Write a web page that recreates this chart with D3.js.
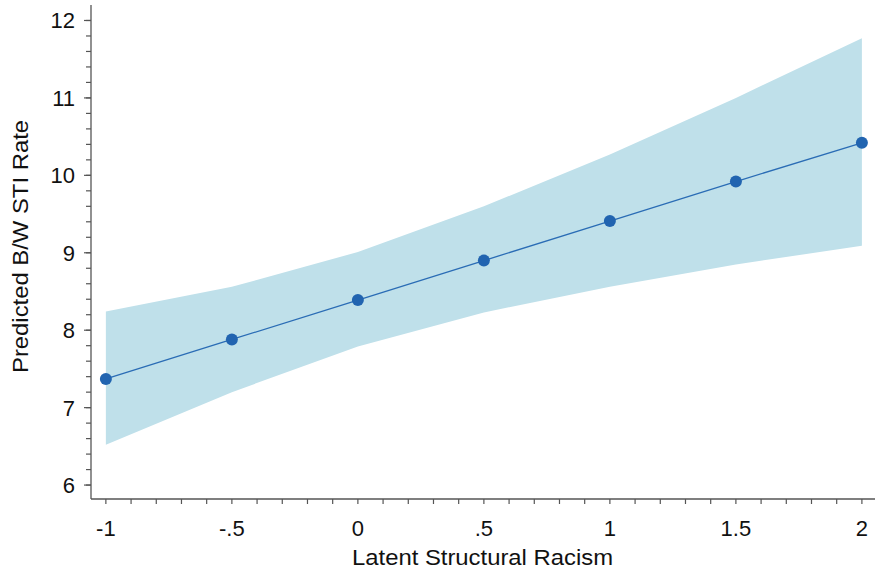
<!DOCTYPE html>
<html><head><meta charset="utf-8">
<script src="https://cdn.jsdelivr.net/npm/d3@7"></script>
<style>body{margin:0;background:#fff}svg{display:block}</style>
</head><body>
<script>
const xVals = [-1, -0.5, 0, 0.5, 1, 1.5, 2];
const predicted = [7.37, 7.88, 8.39, 8.90, 9.41, 9.92, 10.42];
const upper = [8.24, 8.56, 9.01, 9.60, 10.27, 11.00, 11.77];
const lower = [6.52, 7.20, 7.79, 8.23, 8.56, 8.85, 9.09];
const xTicks = [-1, -0.5, 0, 0.5, 1, 1.5, 2];
const xTickLabels = ["-1", "-.5", "0", ".5", "1", "1.5", "2"];
const yTicks = [6, 7, 8, 9, 10, 11, 12];

const W = 882, H = 571;
const svg = d3.select("body").append("svg").attr("width", W).attr("height", H);
const font = "'Liberation Sans', Arial, sans-serif";

const x = d3.scaleLinear().domain([-1.059, 2.052]).range([91, 875]);
const y = d3.scaleLinear().domain([5.82, 12.2]).range([499, 5]);

const data = xVals.map((v, i) => ({x: v, p: predicted[i], u: upper[i], l: lower[i]}));

svg.append("path").datum(data)
  .attr("fill", "#bfe0ea")
  .attr("d", d3.area().x(d => x(d.x)).y0(d => y(d.l)).y1(d => y(d.u)));

svg.append("path").datum(data)
  .attr("fill", "none").attr("stroke", "#2a6cb5").attr("stroke-width", 1.3)
  .attr("d", d3.line().x(d => x(d.x)).y(d => y(d.p)));

svg.selectAll("circle.pt").data(data).enter().append("circle")
  .attr("class", "pt")
  .attr("cx", d => x(d.x)).attr("cy", d => y(d.p)).attr("r", 6)
  .attr("fill", "#2164b0");

const axisColor = "#555";
const textColor = "#111";
// Y axis
const yAxis = svg.append("g").attr("transform", "translate(91,0)");
yAxis.append("line").attr("x1", 0).attr("x2", 0).attr("y1", y.range()[1]).attr("y2", y.range()[0])
  .attr("stroke", axisColor).attr("stroke-width", 1.3);
const yMinor = d3.range(6, 12.01, 0.2);
yAxis.selectAll("line.ym").data(yMinor).enter().append("line")
  .attr("x1", -5).attr("x2", 0).attr("y1", d => y(d)).attr("y2", d => y(d))
  .attr("stroke", axisColor).attr("stroke-width", 1.2);
yAxis.selectAll("line.yM").data(yTicks).enter().append("line")
  .attr("x1", -7).attr("x2", 0).attr("y1", d => y(d)).attr("y2", d => y(d))
  .attr("stroke", axisColor).attr("stroke-width", 1.2);
yAxis.selectAll("text").data(yTicks).enter().append("text")
  .attr("x", -16).attr("y", d => y(d)).attr("dy", "0.36em")
  .attr("text-anchor", "end").attr("font-family", font).attr("font-size", 22).attr("fill", textColor)
  .text(d => d);

// X axis
const xAxis = svg.append("g").attr("transform", "translate(0,499)");
xAxis.append("line").attr("x1", x.range()[0]).attr("x2", x.range()[1]).attr("y1", 0).attr("y2", 0)
  .attr("stroke", axisColor).attr("stroke-width", 1.3);
const xMinor = d3.range(-1, 2.001, 0.1);
xAxis.selectAll("line.xm").data(xMinor).enter().append("line")
  .attr("x1", d => x(d)).attr("x2", d => x(d)).attr("y1", 0).attr("y2", 5)
  .attr("stroke", axisColor).attr("stroke-width", 1.2);
xAxis.selectAll("text").data(xTicks).enter().append("text")
  .attr("x", d => x(d)).attr("y", 37)
  .attr("text-anchor", "middle").attr("font-family", font).attr("font-size", 22).attr("fill", textColor)
  .text((d, i) => xTickLabels[i]);

svg.append("text").attr("x", 482.5).attr("y", 565)
  .attr("text-anchor", "middle").attr("font-family", font).attr("font-size", 22).attr("fill", textColor)
  .attr("textLength", 261).attr("lengthAdjust", "spacingAndGlyphs")
  .text("Latent Structural Racism");
svg.append("text").attr("transform", "translate(28,246.5) rotate(-90)")
  .attr("text-anchor", "middle").attr("font-family", font).attr("font-size", 22).attr("fill", textColor)
  .attr("textLength", 253).attr("lengthAdjust", "spacingAndGlyphs")
  .text("Predicted B/W STI Rate");
</script>
</body></html>
